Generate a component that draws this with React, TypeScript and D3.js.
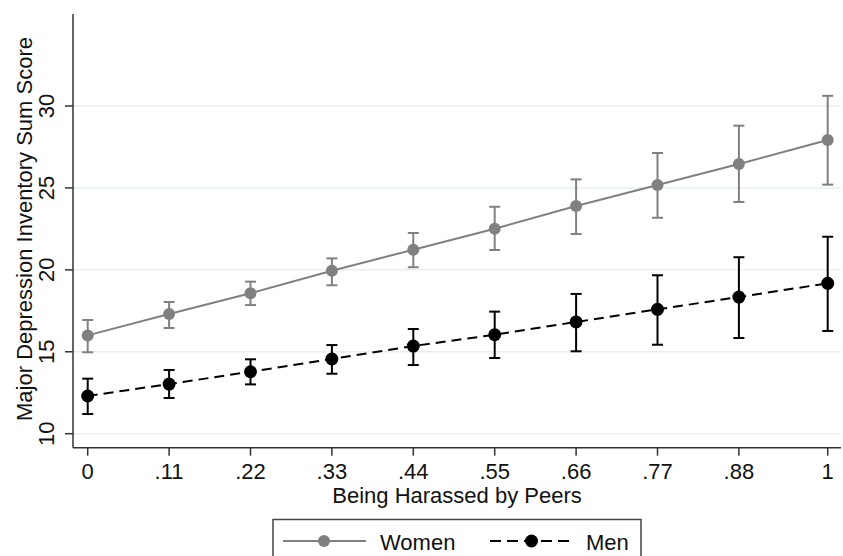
import * as d3 from "d3";

// harassment level (x) and tick labels
const xs = [0, 0.11, 0.22, 0.33, 0.44, 0.55, 0.66, 0.77, 0.88, 1];
const xLabels = ["0", ".11", ".22", ".33", ".44", ".55", ".66", ".77", ".88", "1"];
const yTicks = [10, 15, 20, 25, 30];

// predicted scores with 95% CI
const women = [16.0, 17.3, 18.57, 19.95, 21.23, 22.51, 23.9, 25.18, 26.46, 27.93];
const womenLo = [14.97, 16.45, 17.85, 19.06, 20.16, 21.21, 22.19, 23.18, 24.14, 25.2];
const womenHi = [16.94, 18.04, 19.28, 20.7, 22.25, 23.85, 25.52, 27.13, 28.8, 30.62];
const men = [12.3, 13.03, 13.78, 14.56, 15.35, 16.04, 16.82, 17.59, 18.34, 19.18];
const menLo = [11.2, 12.18, 13.01, 13.66, 14.19, 14.62, 15.03, 15.43, 15.84, 16.27];
const menHi = [13.36, 13.89, 14.54, 15.41, 16.39, 17.45, 18.53, 19.67, 20.77, 22.02];

const width = 843;
const height = 556;
const font = "'Liberation Sans', Arial, Helvetica, sans-serif";
const fs = 22;

const App = () => {
    const x = d3.scaleLinear([0, 1], [87.7, 827.7]);
    const y = d3.scaleLinear([10, 30], [433.7, 106]);
    const axisLeft = 73;
    const axisRight = 841;
    const axisBottom = 447.7;
    const axisTop = 14;

    const line = d3.line<number>((d, i) => x(xs[i]), d => y(d));

    const series = [
        {name: "Women", v: women, lo: womenLo, hi: womenHi, color: "#808080", dash: "none", r: 6},
        {name: "Men", v: men, lo: menLo, hi: menHi, color: "#000000", dash: "10 6", r: 6.5},
    ];

    return (
        <svg width={width} height={height} style={{position: "absolute", left: 0, top: 0}} fontFamily={font}>
            <rect width={width} height={height} fill="white" />
            {/* grid */}
            {yTicks.map(t => (
                <line key={t} x1={axisLeft} x2={axisRight} y1={y(t)} y2={y(t)} stroke="#e6eff1" strokeWidth={1.5} />
            ))}

            {/* axes */}
            <line x1={axisLeft} x2={axisLeft} y1={axisTop} y2={axisBottom} stroke="#333" strokeWidth={1.5} />
            <line x1={axisLeft} x2={axisRight} y1={axisBottom} y2={axisBottom} stroke="#333" strokeWidth={1.5} />
            {yTicks.map(t => (
                <g key={t}>
                    <line x1={axisLeft - 8} x2={axisLeft} y1={y(t)} y2={y(t)} stroke="#333" strokeWidth={1.5} />
                    <text transform={`translate(54,${y(t)}) rotate(-90)`} textAnchor="middle" fontSize={fs} fill="#111">{t}</text>
                </g>
            ))}
            {xs.map((d, i) => (
                <g key={i}>
                    <line x1={x(d)} x2={x(d)} y1={axisBottom} y2={axisBottom + 8} stroke="#333" strokeWidth={1.5} />
                    <text x={x(d)} y={479} textAnchor="middle" fontSize={fs} fill="#111">{xLabels[i]}</text>
                </g>
            ))}
            <text x={457} y={503} textAnchor="middle" fontSize={fs} fill="#111">Being Harassed by Peers</text>
            <text transform={`translate(32,229) rotate(-90)`} textAnchor="middle" fontSize={fs} fill="#111">
                Major Depression Inventory Sum Score
            </text>

            {/* series */}
            {series.map(s => (
                <g key={s.name}>
                    <path d={line(s.v) || ""} fill="none" stroke={s.color} strokeWidth={2} strokeDasharray={s.dash} />
                    {s.v.map((d, i) => (
                        <g key={i} stroke={s.color} strokeWidth={2}>
                            <line x1={x(xs[i])} x2={x(xs[i])} y1={y(s.lo[i])} y2={y(s.hi[i])} />
                            <line x1={x(xs[i]) - 5.5} x2={x(xs[i]) + 5.5} y1={y(s.lo[i])} y2={y(s.lo[i])} />
                            <line x1={x(xs[i]) - 5.5} x2={x(xs[i]) + 5.5} y1={y(s.hi[i])} y2={y(s.hi[i])} />
                            <circle cx={x(xs[i])} cy={y(d)} r={s.r} fill={s.color} stroke="none" />
                        </g>
                    ))}
                </g>
            ))}

            {/* legend */}
            <rect x={273} y={519.5} width={368} height={50} fill="white" stroke="#444" strokeWidth={1.5} />
            <line x1={283} x2={366} y1={541} y2={541} stroke="#808080" strokeWidth={2} />
            <circle cx={324} cy={541} r={6} fill="#808080" />
            <text x={380} y={550} fontSize={fs} fill="#111">Women</text>
            <line x1={490} x2={573} y1={541} y2={541} stroke="#000" strokeWidth={2} strokeDasharray="11 6" />
            <circle cx={531.5} cy={541} r={6.5} fill="#000" />
            <text x={586} y={550} fontSize={fs} fill="#111">Men</text>
        </svg>
    );
};

export default App;
